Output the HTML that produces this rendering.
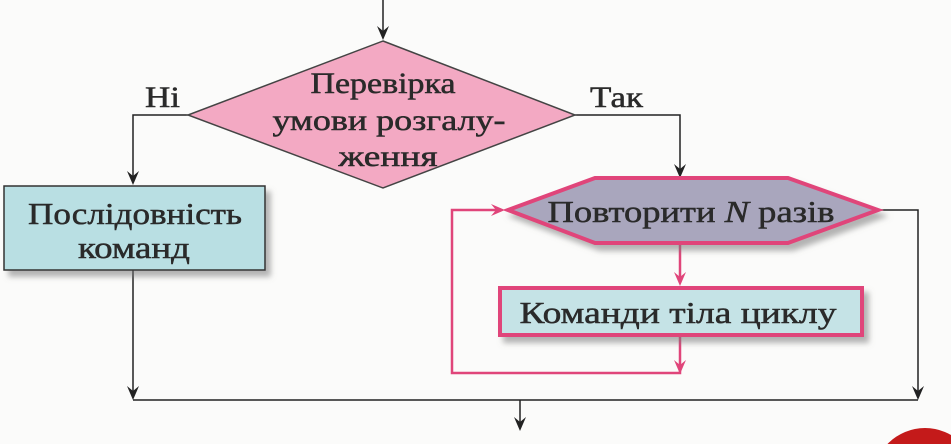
<!DOCTYPE html>
<html><head><meta charset="utf-8"><style>
html,body{margin:0;padding:0;background:#fbfbfa;overflow:hidden;width:951px;height:444px;}
svg{display:block}
text{font-family:"Liberation Serif",serif;fill:#2a2a2a;stroke:#2a2a2a;stroke-width:0.5;}
</style></head><body>
<svg width="951" height="444" viewBox="0 0 951 444" xmlns="http://www.w3.org/2000/svg">
<defs>
<filter id="s" x="-10%" y="-20%" width="130%" height="160%"><feDropShadow dx="5" dy="6" stdDeviation="3" flood-color="#777" flood-opacity="0.55"/></filter>
</defs>
<circle cx="925" cy="480" r="52" fill="#c41a1a"/>
<g stroke="#222" stroke-width="1.5" fill="none">
<line x1="383" y1="0" x2="383" y2="36"/>
<polyline points="188,115 133,115 133,180"/>
<polyline points="575,115 680,115 680,172"/>
<polyline points="133,270 133,395"/>
<polyline points="878,210 918,210 918,395"/>
<line x1="133" y1="400" x2="918" y2="400"/>
<line x1="520" y1="400" x2="520" y2="425"/>
</g>
<g fill="#222">
<path d="M377,26 L383,40 L389,26 L383,31 Z"/>
<path d="M127,171 L133,185 L139,171 L133,176 Z"/>
<path d="M674,164 L680,178 L686,164 L680,169 Z"/>
<path d="M127,386 L133,400 L139,386 L133,391 Z"/>
<path d="M912,386 L918,400 L924,386 L918,391 Z"/>
<path d="M514,417 L520,431 L526,417 L520,422 Z"/>
</g>
<polygon points="383,41 575,115 383,188 188,115" fill="#f3a9c3" stroke="#444" stroke-width="1.5"/>
<text x="383" y="93" font-size="30" text-anchor="middle" textLength="145" lengthAdjust="spacingAndGlyphs">Перевірка</text>
<text x="389" y="130" font-size="30" text-anchor="middle" textLength="233" lengthAdjust="spacingAndGlyphs">умови розгалу-</text>
<text x="388" y="166" font-size="30" text-anchor="middle" textLength="99" lengthAdjust="spacingAndGlyphs">ження</text>
<text x="145" y="107" font-size="30" textLength="35" lengthAdjust="spacingAndGlyphs">Ні</text>
<text x="590" y="107" font-size="30" textLength="53" lengthAdjust="spacingAndGlyphs">Так</text>
<rect x="4" y="186" width="261" height="84" fill="#b9dfe3" stroke="#333" stroke-width="1.5" filter="url(#s)"/>
<text x="135" y="224" font-size="31" text-anchor="middle" textLength="214" lengthAdjust="spacingAndGlyphs">Послідовність</text>
<text x="134" y="258" font-size="31" text-anchor="middle" textLength="112" lengthAdjust="spacingAndGlyphs">команд</text>
<g stroke="#e0457a" stroke-width="2.5" fill="none">
<line x1="680" y1="245" x2="680" y2="280"/>
<polyline points="680,335 680,373 452,373 452,210 498,210"/>
</g>
<g fill="#e0457a">
<path d="M674,272 L680,286 L686,272 L680,277 Z"/>
<path d="M674,360 L680,374 L686,360 L680,365 Z"/>
<path d="M491,204 L505,210 L491,216 L496,210 Z"/>
</g>
<polygon points="508,210 595,178 788,178 878,210 788,243 595,243" fill="#a9a6bd" stroke="#e0457a" stroke-width="4" filter="url(#s)"/>
<text x="691" y="222" font-size="31" text-anchor="middle" textLength="287" lengthAdjust="spacingAndGlyphs">Повторити <tspan font-style="italic">N</tspan> разів</text>
<rect x="500" y="288" width="362" height="47" fill="#c5e3e6" stroke="#e0457a" stroke-width="4" filter="url(#s)"/>
<text x="678" y="323" font-size="31" text-anchor="middle" textLength="317" lengthAdjust="spacingAndGlyphs">Команди тіла циклу</text>
</svg>
</body></html>
